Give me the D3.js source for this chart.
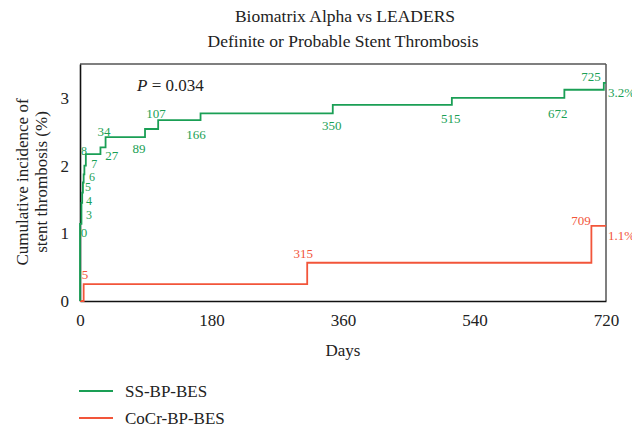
<!DOCTYPE html>
<html><head><meta charset="utf-8">
<script src="https://cdn.jsdelivr.net/npm/d3@7/dist/d3.min.js"></script>
<style>body{margin:0;background:#fff}svg{display:block}text{font-family:"Liberation Serif","DejaVu Serif",serif}</style>
</head><body><svg id="c" width="632" height="427"></svg>
<script>
// ---- data ----
const xTicks = [0, 180, 360, 540, 720];
const yTicks = [0, 1, 2, 3];
const greenDays   = [0, 2, 3, 4, 5, 6, 8, 28, 35, 89, 107, 165, 346, 509, 663, 717];
const greenValues = [1.14, 1.45, 1.6, 1.75, 1.87, 2.0, 2.17, 2.27, 2.42, 2.54, 2.67, 2.77, 2.895, 3.0, 3.12, 3.22];
const greenLabels = ["0","3","4","5","6","7","8","27","34","89","107","166","350","515","672","725"];
const redDays   = [0, 5, 311, 700];
const redValues = [0, 0.25, 0.565, 1.11];
const redLabels = [null, "5", "315", "709"];
const seriesNames = ["SS-BP-BES", "CoCr-BP-BES"];
const endLabels = ["3.2%", "1.1%"];

// ---- label offsets (styling) ----
const greenOff = [[4,9],[7.5,12.5],[6.8,8.3],[5.1,4.5],[8.3,2.6],[9.9,-1.3],[-1.8,-3],[11.2,8.7],[-1.6,-6],[-6,19],[-2.2,-7.2],[-4.5,20.6],[-1,20.7],[-1.2,21],[-6.7,23.6],[-12.8,-6.2]];
const redOff = [null,[1.3,-10],[-4,-9.4],[-10.4,-5.8]];

const GREEN = "#1a9f55", RED = "#f2553a";
const svg = d3.select("#c");
const L = 80, R = 606, T = 64, B = 301;
const x = d3.scaleLinear().domain([0, 720]).range([L, R]);
const y = d3.scaleLinear().domain([0, 3.5]).range([B, T]);

// title
svg.append("text").attr("x", 345).attr("y", 22).attr("text-anchor","middle").attr("font-size",17.5).attr("fill","#222").text("Biomatrix Alpha vs LEADERS");
svg.append("text").attr("x", 343).attr("y", 47).attr("text-anchor","middle").attr("font-size",17.5).attr("fill","#222").text("Definite or Probable Stent Thrombosis");

// frame
svg.append("line").attr("x1",L).attr("x2",R).attr("y1",T).attr("y2",T).attr("stroke","#555").attr("stroke-width",1.5);
svg.append("line").attr("x1",R).attr("x2",R).attr("y1",T).attr("y2",B).attr("stroke","#555").attr("stroke-width",1.5);

// axes
const xa = svg.append("g").attr("transform",`translate(0,${B})`).call(d3.axisBottom(x).tickValues(xTicks).tickSize(0).tickPadding(10));
const ya = svg.append("g").attr("transform",`translate(${L},0)`).call(d3.axisLeft(y).tickValues(yTicks).tickFormat(d3.format("d")).tickSize(0).tickPadding(10));
[xa, ya].forEach(a => {
  a.attr("font-family", null);
  a.select(".domain").attr("stroke","#111").attr("stroke-width",1.6);
  a.selectAll("text").attr("font-size",17).attr("fill","#222");
});
xa.selectAll("text").attr("dy","0.9em");
ya.selectAll("text").attr("dx","-1");

svg.append("text").attr("x", 343).attr("y", 356).attr("text-anchor","middle").attr("font-size",17).attr("fill","#222").text("Days");
const yl = svg.append("text").attr("transform","translate(28,182) rotate(-90)").attr("text-anchor","middle").attr("font-size",17).attr("fill","#222");
yl.append("tspan").attr("x",0).attr("dy",0).text("Cumulative incidence of");
yl.append("tspan").attr("x",0).attr("dy","1.12em").text("stent thrombosis (%)");

// P value
const pt = svg.append("text").attr("x", 137).attr("y", 91).attr("font-size",17).attr("fill","#222");
pt.append("tspan").attr("font-style","italic").text("P");
pt.append("tspan").text(" = 0.034");

// step lines
function stepData(days, vals, startZero) {
  const pts = [];
  if (startZero) pts.push([0, 0]);
  days.forEach((d, i) => pts.push([d, vals[i]]));
  pts.push([720, vals[vals.length - 1]]);
  return pts;
}
const line = d3.line().x(d => x(d[0])).y(d => y(d[1])).curve(d3.curveStepAfter);
svg.append("path").datum(stepData(redDays, redValues, false)).attr("d", line).attr("fill","none").attr("stroke",RED).attr("stroke-width",1.8);
svg.append("path").datum(stepData(greenDays, greenValues, true)).attr("d", line).attr("fill","none").attr("stroke",GREEN).attr("stroke-width",1.8);

// step labels
function labels(days, vals, texts, offs, color) {
  texts.forEach((t, i) => {
    if (t == null) return;
    svg.append("text").attr("x", x(days[i]) + offs[i][0]).attr("y", y(vals[i]) + offs[i][1])
      .attr("text-anchor","middle").attr("dominant-baseline","central")
      .attr("font-size", i >= 1 && i <= 6 && color === GREEN ? 12 : 13).attr("fill",color).text(t);
  });
}
labels(greenDays, greenValues, greenLabels, greenOff, GREEN);
labels(redDays, redValues, redLabels, redOff, RED);

svg.append("text").attr("x", R + 2).attr("y", y(greenValues[greenValues.length-1]) + 10).attr("dominant-baseline","central").attr("font-size",13).attr("fill",GREEN).text(endLabels[0]);
svg.append("text").attr("x", R + 2).attr("y", y(redValues[redValues.length-1]) + 10).attr("dominant-baseline","central").attr("font-size",13).attr("fill",RED).text(endLabels[1]);

// legend
[GREEN, RED].forEach((c, i) => {
  const yy = 391 + i * 27;
  svg.append("line").attr("x1",79).attr("x2",113).attr("y1",yy).attr("y2",yy).attr("stroke",c).attr("stroke-width",2);
  svg.append("text").attr("x",125).attr("y",yy).attr("dominant-baseline","central").attr("font-size",17).attr("fill","#222").text(seriesNames[i]);
});
</script></body></html>
